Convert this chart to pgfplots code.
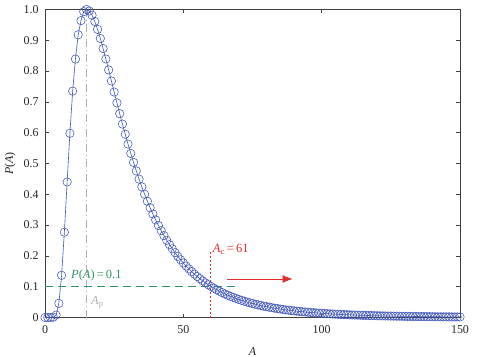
\documentclass[border=0pt]{standalone}
\usepackage{pgfplots}
\pgfplotsset{compat=1.18}
\usetikzlibrary{arrows.meta}
\usepackage{fontspec}
\setmainfont{Liberation Serif}
\definecolor{cblue}{RGB}{62,84,184}
\definecolor{cgreen}{RGB}{46,150,96}
\definecolor{cred}{RGB}{225,45,45}
\definecolor{cgray}{RGB}{175,175,175}
\begin{document}
\begin{tikzpicture}
\path[use as bounding box] (-45bp,-39.5bp) rectangle (445bp,317.5bp);
\begin{axis}[
  at={(0,0)}, anchor=south west,
  scale only axis, width=415bp, height=308bp,
  xmin=0, xmax=150, ymin=0, ymax=1,
  xtick={0,50,100,150},
  ytick={0,0.1,0.2,0.3,0.4,0.5,0.6,0.7,0.8,0.9,1},
  yticklabels={0,0.1,0.2,0.3,0.4,0.5,0.6,0.7,0.8,0.9,1.0},
  xticklabels={0,50,100,150},
  tick align=inside, major tick length=4bp,
  xtick pos=both, ytick pos=both,
  axis line style={black!75, line width=0.6pt},
  tick style={black!75, line width=0.5pt},
  tick label style={font=\fontsize{12}{14}\selectfont, text=black!85},
  xticklabel style={yshift=-5bp},
  yticklabel style={xshift=-3bp},
  xlabel={\textit{A}}, ylabel={\textit{P}(\textit{A})},
  label style={font=\fontsize{12}{14}\selectfont, text=black!85},
  xlabel style={yshift=-7bp},
  ylabel style={yshift=1bp},
  clip=false,
]
\draw[color=cgray, line width=0.7pt, dash pattern=on 8bp off 3bp on 1bp off 3bp] (axis cs:15,0) -- (axis cs:15,1);
\addplot[cblue, line width=0.6pt, mark=o, mark size=4.2bp, mark options={line width=0.55pt}] table[row sep=\\] {
x y\\
0 0\\ 1 0\\ 2 0\\ 3 0.001\\ 4 0.008\\ 5 0.046\\ 6 0.137\\ 7 0.277\\ 8 0.44\\ 9 0.598\\
10 0.735\\ 11 0.839\\ 12 0.918\\ 13 0.964\\ 14 0.993\\ 15 1.0\\ 16 0.9950\\ 17 0.9815\\ 18 0.9611\\ 19 0.9354\\
20 0.9059\\ 21 0.8735\\ 22 0.8393\\ 23 0.8039\\ 24 0.7680\\ 25 0.7321\\ 26 0.6966\\ 27 0.6618\\ 28 0.6279\\ 29 0.5950\\
30 0.5632\\ 31 0.5328\\ 32 0.5036\\ 33 0.4758\\ 34 0.4493\\ 35 0.4241\\ 36 0.4002\\ 37 0.3776\\ 38 0.3562\\ 39 0.3360\\
40 0.3168\\ 41 0.2988\\ 42 0.2818\\ 43 0.2658\\ 44 0.2507\\ 45 0.2365\\ 46 0.2231\\ 47 0.2105\\ 48 0.1986\\ 49 0.1875\\
50 0.1770\\ 51 0.1671\\ 52 0.1578\\ 53 0.1490\\ 54 0.1408\\ 55 0.1331\\ 56 0.1258\\ 57 0.1189\\ 58 0.1125\\ 59 0.1064\\
60 0.1007\\ 61 0.0953\\ 62 0.0902\\ 63 0.0854\\ 64 0.0809\\ 65 0.0766\\ 66 0.0726\\ 67 0.0688\\ 68 0.0653\\ 69 0.0619\\
70 0.0587\\ 71 0.0557\\ 72 0.0529\\ 73 0.0502\\ 74 0.0477\\ 75 0.0453\\ 76 0.0430\\ 77 0.0409\\ 78 0.0389\\ 79 0.0370\\
80 0.0352\\ 81 0.0335\\ 82 0.0318\\ 83 0.0303\\ 84 0.0288\\ 85 0.0275\\ 86 0.0262\\ 87 0.0249\\ 88 0.0238\\ 89 0.0226\\
90 0.0216\\ 91 0.0206\\ 92 0.0196\\ 93 0.0187\\ 94 0.0179\\ 95 0.0171\\ 96 0.0163\\ 97 0.0156\\ 98 0.0149\\ 99 0.0142\\
100 0.0136\\ 101 0.0130\\ 102 0.0124\\ 103 0.0119\\ 104 0.0113\\ 105 0.0108\\ 106 0.0104\\ 107 0.0099\\ 108 0.0095\\ 109 0.0091\\
110 0.0087\\ 111 0.0083\\ 112 0.0080\\ 113 0.0077\\ 114 0.0073\\ 115 0.0070\\ 116 0.0067\\ 117 0.0065\\ 118 0.0062\\ 119 0.0060\\
120 0.0057\\ 121 0.0055\\ 122 0.0053\\ 123 0.0050\\ 124 0.0048\\ 125 0.0047\\ 126 0.0045\\ 127 0.0043\\ 128 0.0041\\ 129 0.0040\\
130 0.0038\\ 131 0.0037\\ 132 0.0035\\ 133 0.0034\\ 134 0.0033\\ 135 0.0031\\ 136 0.0030\\ 137 0.0029\\ 138 0.0028\\ 139 0.0027\\
140 0.0026\\ 141 0.0025\\ 142 0.0024\\ 143 0.0023\\ 144 0.0022\\ 145 0.0022\\ 146 0.0021\\ 147 0.0020\\ 148 0.0019\\ 149 0.0019\\
150 0.0018\\
};
\draw[color=cgreen, line width=0.7pt, dash pattern=on 8bp off 5bp] (axis cs:0,0.1) -- (axis cs:69.5,0.1);
\node[text=cgreen, anchor=west, font=\fontsize{12.5}{14}\selectfont, inner sep=0pt] at (axis cs:9.4,0.137) {\textit{P}(\textit{A})\,=\,0.1};
\draw[color=cred, line width=0.9pt, dash pattern=on 2bp off 2bp] (axis cs:59.7,0) -- (axis cs:59.7,0.214);
\node[text=cred, anchor=west, font=\fontsize{12.5}{14}\selectfont, inner sep=0pt] at (axis cs:60.6,0.222) {\textit{A}\textsubscript{c}\,=\,61};
\draw[color=cred, line width=0.8pt, -{Latex[length=10bp,width=8bp]}] (axis cs:65.7,0.125) -- (axis cs:89.5,0.125);
\node[text=cgray, anchor=west, font=\fontsize{12.5}{14}\selectfont, inner sep=0pt] at (axis cs:16.6,0.05) {\textit{A}\textsubscript{p}};
\end{axis}
\end{tikzpicture}
\end{document}
